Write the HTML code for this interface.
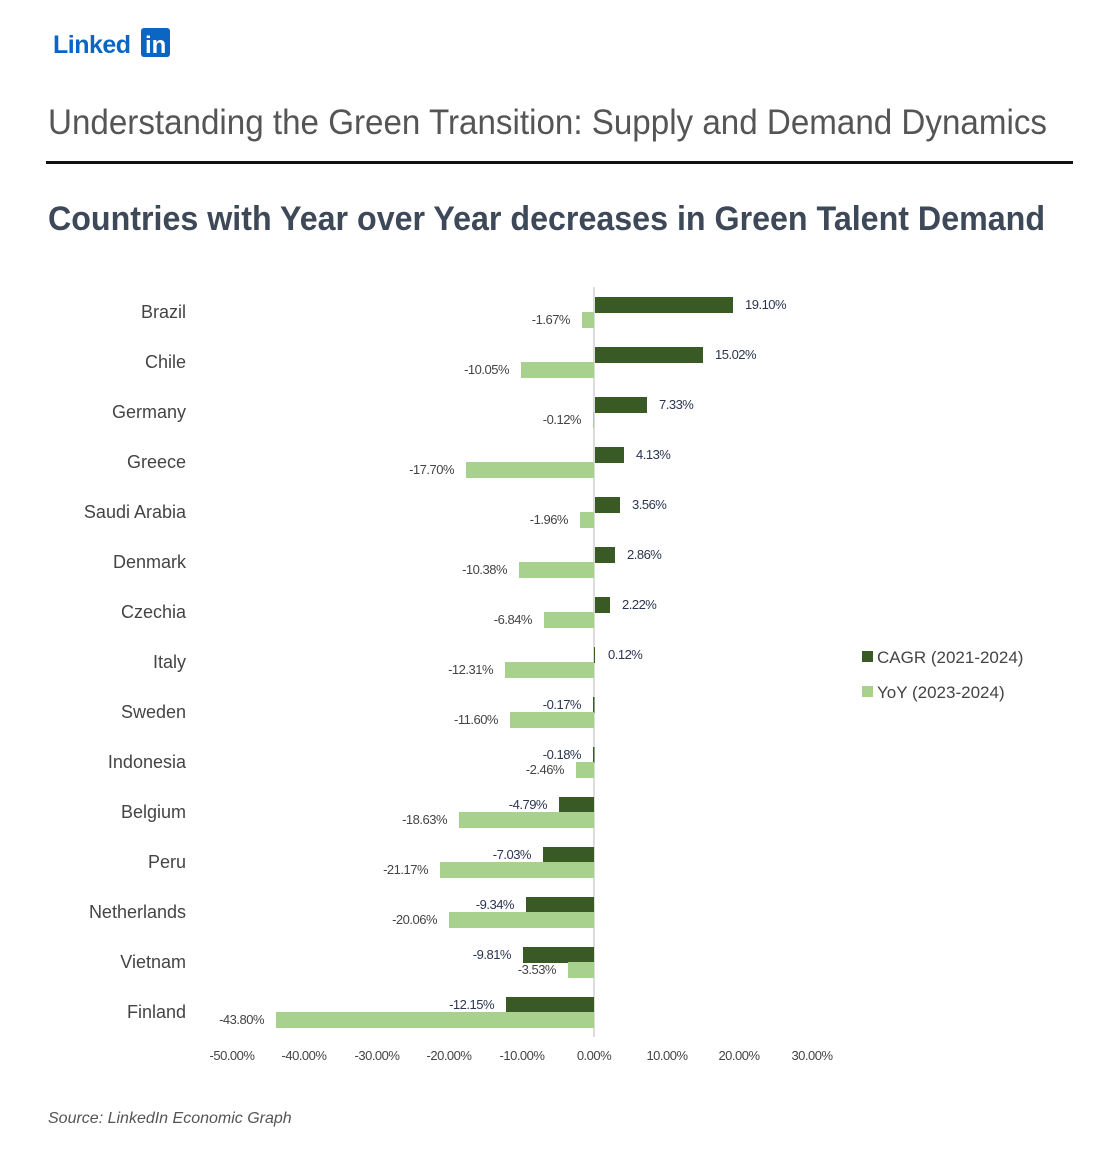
<!DOCTYPE html>
<html><head><meta charset="utf-8"><style>
body{margin:0;background:#fff;width:1111px;height:1146px;overflow:hidden;font-family:"Liberation Sans",sans-serif}
</style></head><body>
<svg width="1111" height="1146" xmlns="http://www.w3.org/2000/svg" font-family="Liberation Sans, sans-serif">
<text x="53" y="53" font-size="25" font-weight="bold" fill="#0a66c2" letter-spacing="-0.5">Linked</text>
<rect x="141" y="28" width="29" height="29" rx="3" fill="#0a66c2"/>
<text x="145" y="53" font-size="24" font-weight="bold" fill="#fff">in</text>
<text x="48" y="134" font-size="35" fill="#555" textLength="999" lengthAdjust="spacingAndGlyphs">Understanding the Green Transition: Supply and Demand Dynamics</text>
<rect x="46" y="161" width="1027" height="3" fill="#111"/>
<text x="48" y="230" font-size="34" font-weight="bold" fill="#3d4858" textLength="997" lengthAdjust="spacingAndGlyphs">Countries with Year over Year decreases in Green Talent Demand</text>
<line x1="594" y1="287" x2="594" y2="1037" stroke="#d0d0d0" stroke-width="1.5"/>
<g fill="#3a5a25">
<rect x="595" y="297" width="138" height="16"/>
<rect x="595" y="347" width="108" height="16"/>
<rect x="595" y="397" width="52" height="16"/>
<rect x="595" y="447" width="29" height="16"/>
<rect x="595" y="497" width="25" height="16"/>
<rect x="595" y="547" width="20" height="16"/>
<rect x="595" y="597" width="15" height="16"/>
<rect x="594" y="647" width="1" height="16"/>
<rect x="593" y="697" width="1.5" height="16"/>
<rect x="593" y="747" width="1.5" height="16"/>
<rect x="559" y="797" width="35" height="16"/>
<rect x="543" y="847" width="51" height="16"/>
<rect x="526" y="897" width="68" height="16"/>
<rect x="523" y="947" width="71" height="16"/>
<rect x="506" y="997" width="88" height="16"/>
</g>
<g fill="#a8d18d">
<rect x="582" y="312" width="12" height="16"/>
<rect x="521" y="362" width="73" height="16"/>
<rect x="593" y="412" width="1" height="16"/>
<rect x="466" y="462" width="128" height="16"/>
<rect x="580" y="512" width="14" height="16"/>
<rect x="519" y="562" width="75" height="16"/>
<rect x="544" y="612" width="50" height="16"/>
<rect x="505" y="662" width="89" height="16"/>
<rect x="510" y="712" width="84" height="16"/>
<rect x="576" y="762" width="18" height="16"/>
<rect x="459" y="812" width="135" height="16"/>
<rect x="440" y="862" width="154" height="16"/>
<rect x="449" y="912" width="145" height="16"/>
<rect x="568" y="962" width="26" height="16"/>
<rect x="276" y="1012" width="318" height="16"/>
</g>
<g font-size="18" fill="#444" text-anchor="end">
<text x="186" y="318">Brazil</text><text x="186" y="368">Chile</text><text x="186" y="418">Germany</text>
<text x="186" y="468">Greece</text><text x="186" y="518">Saudi Arabia</text><text x="186" y="568">Denmark</text>
<text x="186" y="618">Czechia</text><text x="186" y="668">Italy</text><text x="186" y="718">Sweden</text>
<text x="186" y="768">Indonesia</text><text x="186" y="818">Belgium</text><text x="186" y="868">Peru</text>
<text x="186" y="918">Netherlands</text><text x="186" y="968">Vietnam</text><text x="186" y="1018">Finland</text>
</g>
<g font-size="13" fill="#2a3550" letter-spacing="-0.5">
<text x="745" y="309">19.10%</text><text x="715" y="359">15.02%</text><text x="659" y="409">7.33%</text>
<text x="636" y="459">4.13%</text><text x="632" y="509">3.56%</text><text x="627" y="559">2.86%</text>
<text x="622" y="609">2.22%</text><text x="608" y="659">0.12%</text>
</g>
<g font-size="13" fill="#2a3550" text-anchor="end" letter-spacing="-0.5">
<text x="581" y="709">-0.17%</text><text x="581" y="759">-0.18%</text><text x="547" y="809">-4.79%</text>
<text x="531" y="859">-7.03%</text><text x="514" y="909">-9.34%</text><text x="511" y="959">-9.81%</text>
<text x="494" y="1009">-12.15%</text>
</g>
<g font-size="13" fill="#444" text-anchor="end" letter-spacing="-0.5">
<text x="570" y="324">-1.67%</text><text x="509" y="374">-10.05%</text><text x="581" y="424">-0.12%</text>
<text x="454" y="474">-17.70%</text><text x="568" y="524">-1.96%</text><text x="507" y="574">-10.38%</text>
<text x="532" y="624">-6.84%</text><text x="493" y="674">-12.31%</text><text x="498" y="724">-11.60%</text>
<text x="564" y="774">-2.46%</text><text x="447" y="824">-18.63%</text><text x="428" y="874">-21.17%</text>
<text x="437" y="924">-20.06%</text><text x="556" y="974">-3.53%</text><text x="264" y="1024">-43.80%</text>
</g>
<g font-size="13" fill="#444" text-anchor="middle" letter-spacing="-0.5">
<text x="232" y="1060">-50.00%</text><text x="304" y="1060">-40.00%</text><text x="377" y="1060">-30.00%</text>
<text x="449" y="1060">-20.00%</text><text x="522" y="1060">-10.00%</text><text x="594" y="1060">0.00%</text>
<text x="667" y="1060">10.00%</text><text x="739" y="1060">20.00%</text><text x="812" y="1060">30.00%</text>
</g>
<rect x="862" y="651" width="11" height="11" fill="#3a5a25"/>
<text x="877" y="663" font-size="17" fill="#444">CAGR (2021-2024)</text>
<rect x="862" y="686" width="11" height="11" fill="#a8d18d"/>
<text x="877" y="698" font-size="17" fill="#444">YoY (2023-2024)</text>
<text x="48" y="1123" font-size="16" font-style="italic" fill="#555">Source: LinkedIn Economic Graph</text>
</svg>
</body></html>
